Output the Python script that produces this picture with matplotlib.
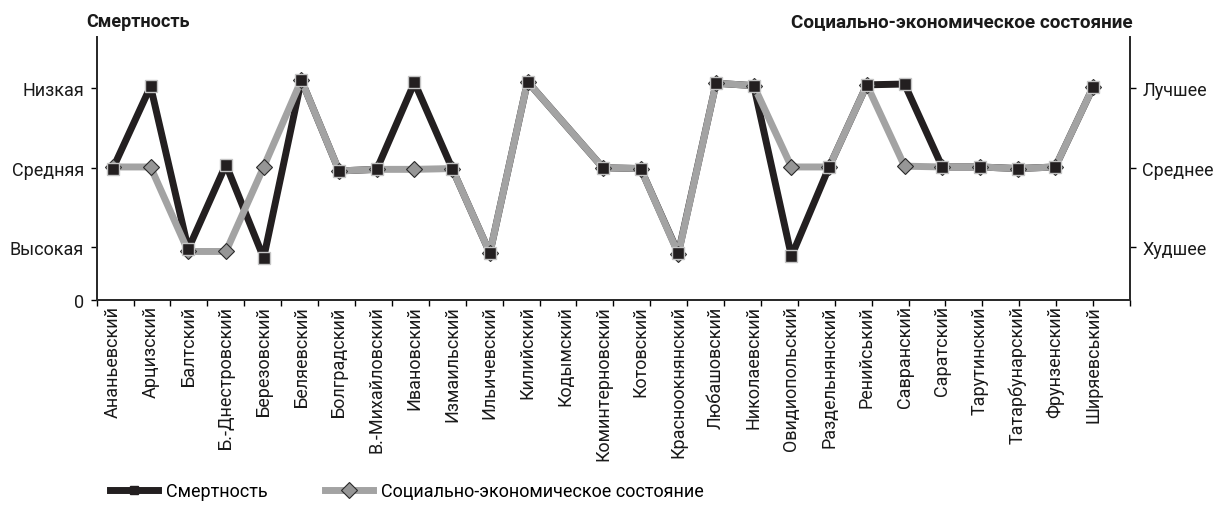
import matplotlib
matplotlib.use("Agg")
import matplotlib.pyplot as plt
from matplotlib.lines import Line2D
import numpy as np

plt.rcParams['font.family'] = ['Roboto', 'DejaVu Sans']
plt.rcParams['font.size'] = 13

# Districts of Odesa oblast
districts = [
    'Ананьевский', 'Арцизский', 'Балтский', 'Б.-Днестровский', 'Березовский',
    'Беляевский', 'Болградский', 'В.-Михайловский', 'Ивановский', 'Измаильский',
    'Ильичевский', 'Килийский', 'Кодымский', 'Коминтерновский', 'Котовский',
    'Красноокнянский', 'Любашовский', 'Николаевский', 'Овидиопольский',
    'Раздельнянский', 'Ренийський', 'Савранский', 'Саратский',
    'Тарутинский', 'Татарбунарский', 'Фрунзенский', 'Ширяевський',
]

# level scale: 1 = high mortality / worst, 2 = average, 3 = low mortality / best
# (None = no estimate for the district)
mortality = [1.99, 3.02, 0.98, 2.04, 0.87, 3.10, 1.96, 1.98, 3.07, 1.99,
             0.93, 3.08, None, 2.00, 1.99, 0.93, 3.06, 3.03, 0.89, 2.01,
             3.04, 3.05, 2.01, 2.01, 1.99, 2.01, 3.01]
socio = [2.01, 2.01, 0.95, 0.95, 2.01, 3.10, 1.96, 1.98, 1.98, 1.99,
         0.93, 3.08, None, 2.00, 1.99, 0.92, 3.06, 3.03, 2.01, 2.01,
         3.04, 2.02, 2.01, 2.01, 1.99, 2.01, 3.01]

mort_levels = ['Высокая', 'Средняя', 'Низкая']
socio_levels = ['Худшее', 'Среднее', 'Лучшее']
level_pos = [1, 2, 3]
y_floor = 0.345  # bottom of the scale, labelled "0"

BLACK = '#231f20'
GRAY = '#a3a3a3'
TEXT = '#1a1a1a'

x = np.arange(len(districts))
m = np.array([np.nan if v is None else v for v in mortality])
s = np.array([np.nan if v is None else v for v in socio])
mo = ~np.isnan(m)
so = ~np.isnan(s)

fig = plt.figure(figsize=(12.22, 5.06), dpi=100)
ax = fig.add_axes([0.0791, 0.4057, 0.9247 - 0.0791, 0.9249 - 0.4057])

ax.plot(x[mo], m[mo], color=BLACK, lw=5, zorder=2)
ax.plot(x[so], s[so], color=GRAY, lw=5, zorder=3,
        marker='D', ms=8.5, mfc='#969696', mec='#2a2a2a', mew=0.8)
ax.plot(x[mo], m[mo], ls='none', marker='s', ms=8.5, mfc=BLACK,
        mec='#c4c4c4', mew=1.0, zorder=4)

ax.set_xlim(-0.43, 26.98)
ax.set_ylim(y_floor, 3.64)

ax.set_xticks(x)
ax.set_xticklabels(districts, rotation=90, color=TEXT)
ax.tick_params(axis='x', which='major', length=0, pad=4)
ax.set_xticks(np.linspace(*ax.get_xlim(), 29), minor=True)
ax.tick_params(axis='x', which='minor', length=4.5, width=1.0, direction='out')

ax.set_yticks([y_floor] + level_pos)
ax.set_yticklabels(['0'] + mort_levels, color=TEXT)
ax.tick_params(axis='y', length=4, width=1.0, pad=5)

ax2 = ax.twinx()
ax2.set_ylim(ax.get_ylim())
ax2.set_yticks(level_pos)
ax2.set_yticklabels(socio_levels, color=TEXT)
ax2.tick_params(axis='y', length=4, width=1.0, pad=5)

for a in (ax, ax2):
    a.spines['top'].set_visible(False)
    for side in ('left', 'right', 'bottom'):
        a.spines[side].set_linewidth(1.3)
        a.spines[side].set_color('#2a2a2a')

fig.text(86 / 1222, 1 - 22 / 506, 'Смертность', fontweight='bold',
         ha='left', va='center', color=TEXT)
fig.text(791 / 1222, 1 - 22 / 506, 'Социально-экономическое состояние',
         fontweight='bold', fontsize=13.6, ha='left', va='center', color=TEXT)

handles = [
    Line2D([], [], color=BLACK, lw=5, marker='s', ms=6, mfc=BLACK, mec=BLACK),
    Line2D([], [], color=GRAY, lw=5, marker='D', ms=8.5, mfc='#969696',
           mec='#2a2a2a', mew=0.8),
]
fig.legend(handles, ['Смертность', 'Социально-экономическое состояние'],
           loc='center left', bbox_to_anchor=(110 / 1222, 1 - 492 / 506),
           ncol=2, frameon=False, fontsize=13, handlelength=2.67,
           handletextpad=0.45, columnspacing=3.15, borderpad=0, borderaxespad=0)

fig.savefig('out.png', dpi=100)
